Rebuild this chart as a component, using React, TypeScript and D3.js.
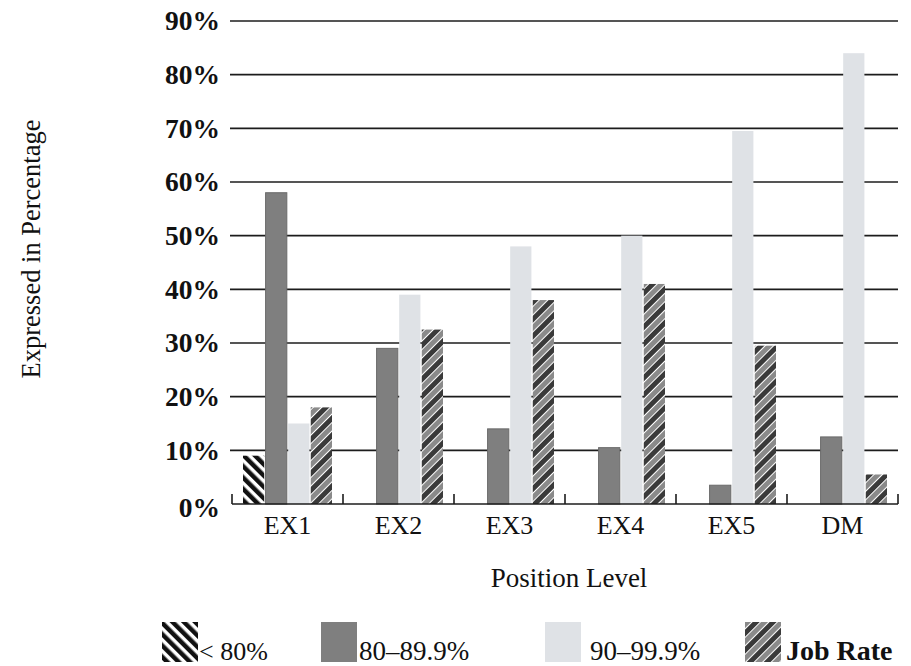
import * as d3 from 'd3';

// Position levels and the four series (percent of employees)
const categories = ['EX1', 'EX2', 'EX3', 'EX4', 'EX5', 'DM'];
const seriesNames = ['< 80%', '80–89.9%', '90–99.9%', 'Job Rate'];
const below80 = [9, 0, 0, 0, 0, 0];
const range80to90 = [58, 29, 14, 10.5, 3.5, 12.5];
const range90to100 = [15, 39, 48, 50, 69.5, 84];
const jobRate = [18, 32.5, 38, 41, 29.5, 5.5];
const yTicks = [0, 10, 20, 30, 40, 50, 60, 70, 80, 90];

const seriesValues = [below80, range80to90, range90to100, jobRate];
const fills = ['url(#pat-below)', '#7f7f7f', '#dfe2e6', 'url(#pat-job)'];

const FONT = '"Liberation Serif", "DejaVu Serif", serif';

export default function App() {
  const width = 911;
  const height = 666;
  const plot = { left: 232, right: 898, top: 21, bottom: 504 };

  const x = d3.scaleBand<string>().domain(categories).range([plot.left, plot.right]);
  const inner = d3
    .scaleBand<number>()
    .domain([0, 1, 2, 3])
    .range([11, 100])
    .paddingInner(0.06);
  const y = d3.scaleLinear().domain([0, 90]).range([plot.bottom, plot.top]);

  const rows = categories.map((c, i) => ({
    cat: c,
    vals: seriesValues.map((s) => s[i]),
  }));

  // boundary ticks along the bottom axis
  const boundaries = d3.range(categories.length + 1).map((i) => plot.left + i * x.step());

  const legendItems = [
    { sx: 162, tx: 199, size: 26, bold: false },
    { sx: 321, tx: 359, size: 27, bold: false },
    { sx: 545, tx: 590, size: 27, bold: false },
    { sx: 745, tx: 786, size: 28, bold: true },
  ];

  return (
    <svg
      width={width}
      height={height}
      style={{ position: 'absolute', left: 0, top: 0, background: '#fff' }}
      fontFamily={FONT}
    >
      <defs>
        <pattern
          id="pat-below"
          patternUnits="userSpaceOnUse"
          width={8}
          height={8}
          patternTransform="rotate(-45)"
        >
          <rect width={8} height={8} fill="#fff" />
          <rect width={4.5} height={8} fill="#111" />
        </pattern>
        <pattern
          id="pat-job"
          patternUnits="userSpaceOnUse"
          width={12}
          height={12}
          patternTransform="rotate(45)"
        >
          <rect width={12} height={12} fill="#fff" />
          <rect x={0} width={5} height={12} fill="#3a3a3a" />
          <rect x={6} width={5} height={12} fill="#8a8a8a" />
        </pattern>
      </defs>

      {/* gridlines */}
      {yTicks
        .filter((t) => t > 0)
        .map((t) => (
          <line
            key={t}
            x1={plot.left - 2}
            x2={plot.right}
            y1={y(t)}
            y2={y(t)}
            stroke="#1c1c1c"
            strokeWidth={1.6}
          />
        ))}

      {/* bars */}
      {rows.map((r) =>
        r.vals.map((v, j) =>
          v > 0 ? (
            <rect
              key={r.cat + j}
              x={(x(r.cat) ?? 0) + (inner(j) ?? 0)}
              y={y(v)}
              width={inner.bandwidth()}
              height={y(0) - y(v)}
              fill={fills[j]}
              stroke={j === 1 ? '#6a6a6a' : 'none'}
              strokeWidth={1}
            />
          ) : null
        )
      )}

      {/* bottom axis */}
      <line
        x1={plot.left}
        x2={plot.right}
        y1={plot.bottom}
        y2={plot.bottom}
        stroke="#1c1c1c"
        strokeWidth={1.6}
      />
      {boundaries.map((bx, i) => (
        <line key={i} x1={bx} x2={bx} y1={plot.bottom} y2={plot.bottom - 10} stroke="#1c1c1c" strokeWidth={1.6} />
      ))}

      {/* y tick labels */}
      {yTicks.map((t) => (
        <text
          key={t}
          x={220}
          y={y(t) + (t === 0 ? 7 : 3)}
          textAnchor="end"
          dominantBaseline="middle"
          fontSize={27.5}
          fontWeight="bold"
          fill="#111"
        >
          {t}%
        </text>
      ))}

      {/* category labels */}
      {categories.map((c) => (
        <text
          key={c}
          x={(x(c) ?? 0) + x.bandwidth() / 2}
          y={534}
          textAnchor="middle"
          fontSize={26}
          fill="#111"
        >
          {c}
        </text>
      ))}

      {/* axis titles */}
      <text x={569} y={587} textAnchor="middle" fontSize={27} fill="#111">
        Position Level
      </text>
      <text
        transform={`translate(40, 249) rotate(-90)`}
        textAnchor="middle"
        fontSize={26.5}
        fill="#111"
      >
        Expressed in Percentage
      </text>

      {/* legend */}
      {legendItems.map((it, i) => (
        <g key={i}>
          <rect x={it.sx} y={622} width={36} height={40} fill={fills[i]} />
          <text x={it.tx} y={660} fontSize={it.size} fontWeight={it.bold ? 'bold' : 'normal'} fill="#111">
            {seriesNames[i]}
          </text>
        </g>
      ))}
    </svg>
  );
}
